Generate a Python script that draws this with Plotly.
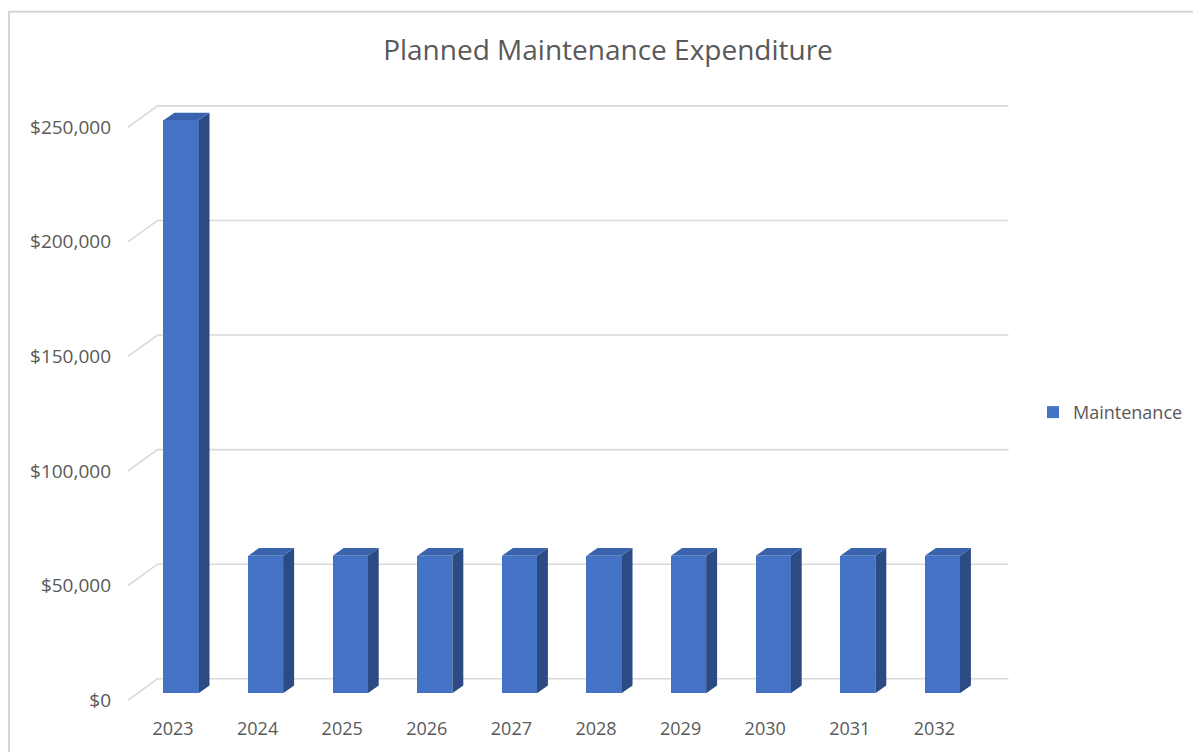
import plotly.graph_objects as go

# ---- data ----
years = ["2023", "2024", "2025", "2026", "2027", "2028", "2029", "2030", "2031", "2032"]
maintenance = [250000, 60000, 60000, 60000, 60000, 60000, 60000, 60000, 60000, 60000]
y_ticks = [0, 50000, 100000, 150000, 200000, 250000]
y_tick_labels = ["$" + f"{v:,}" for v in y_ticks]

# ---- pseudo-3D geometry (in axis units) ----
FRONT_DX, FRONT_DY = 0.0946, 3030     # bar front plane offset from floor front
BAR_W = 0.414
SIDE_DX, SIDE_DY = 0.130, 3290        # bar depth
WALL_DX, WALL_DY = 0.349, 9307        # full floor depth
FLOOR_X0, FLOOR_X1 = -0.532, 9.527

FRONT = "#4472C4"
TOP = "#3A63AD"
SIDE = "#2C4B85"
GRID = "#D9D9D9"
TXT = "#595959"
FONT = "Open Sans"

idx = list(range(len(years)))
fig = go.Figure()
fig.add_trace(go.Bar(
    x=[i + FRONT_DX for i in idx], y=maintenance, base=FRONT_DY,
    width=BAR_W, marker=dict(color=FRONT, line=dict(width=0)),
    name="Maintenance", showlegend=True,
))

shapes = []
# gridlines on the side and back walls
for v in y_ticks:
    path = (f"M {FLOOR_X0},{v} L {FLOOR_X0 + WALL_DX},{v + WALL_DY} "
            f"L {FLOOR_X1 + WALL_DX},{v + WALL_DY}")
    shapes.append(dict(type="path", path=path, xref="x", yref="y",
                       line=dict(color=GRID, width=1.6), layer="below"))

# side and top faces of each column
for i, v in zip(idx, maintenance):
    xl = i + FRONT_DX - BAR_W / 2
    xr = i + FRONT_DX + BAR_W / 2
    b = FRONT_DY
    t = FRONT_DY + v
    side = (f"M {xr},{b} L {xr},{t} L {xr + SIDE_DX},{t + SIDE_DY} "
            f"L {xr + SIDE_DX},{b + SIDE_DY} Z")
    top = (f"M {xl},{t} L {xr},{t} L {xr + SIDE_DX},{t + SIDE_DY} "
           f"L {xl + SIDE_DX},{t + SIDE_DY} Z")
    shapes.append(dict(type="path", path=side, xref="x", yref="y",
                       fillcolor=SIDE, line=dict(width=0), layer="below"))
    shapes.append(dict(type="path", path=top, xref="x", yref="y",
                       fillcolor=TOP, line=dict(width=0), layer="below"))

# figure sits 8px into the page (body margin)
W, H = 1193, 744
L, R, T, B = 112, 181, 84, 35
pw, ph = W - L - R, H - T - B
# chart frame
shapes.append(dict(type="rect", xref="paper", yref="paper",
                   x0=(1 - L) / pw, x1=(W + 10 - L) / pw,
                   y0=(H - B - (H + 10)) / ph, y1=(H - B - 3) / ph,
                   line=dict(color="#D4D4D4", width=2), layer="below"))

fig.update_layout(
    width=W, height=H,
    margin=dict(l=L, r=R, t=T, b=B),
    paper_bgcolor="white", plot_bgcolor="white",
    font=dict(family=FONT, color=TXT, size=18),
    title=dict(text="Planned Maintenance Expenditure", x=600 / W, xref="container",
               xanchor="center", y=1 - 42 / H, yref="container", yanchor="middle",
               font=dict(family=FONT, size=28, color=TXT)),
    xaxis=dict(range=[-0.6265, 10.012], tickvals=idx, ticktext=years,
               showgrid=False, zeroline=False, showline=False, ticks="",
               ticklabelstandoff=4,
               tickfont=dict(size=18, color=TXT)),
    yaxis=dict(range=[-5195, 265368], tickvals=y_ticks, ticktext=y_tick_labels,
               showgrid=False, zeroline=False, showline=False,
               ticks="", ticklabelstandoff=8, tickfont=dict(size=19, color=TXT)),
    legend=dict(x=(1025 - L) / pw, xanchor="left", y=(H - B - 407) / ph,
                yanchor="middle", font=dict(size=18, color=TXT),
                bgcolor="rgba(0,0,0,0)"),
    shapes=shapes,
    bargap=0,
)

fig.write_html("out.html")
